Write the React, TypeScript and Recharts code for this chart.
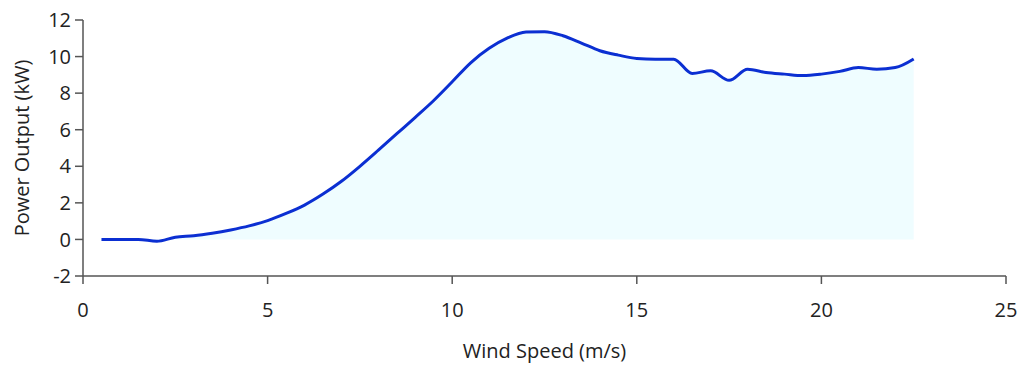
import React from 'react';
import { ComposedChart, Area, XAxis, YAxis } from 'recharts';

const windSpeed = [0.5, 1, 1.5, 2, 2.5, 3, 3.5, 4, 4.5, 5, 5.5, 6, 6.5, 7, 7.5, 8, 8.5, 9, 9.5, 10, 10.5, 11, 11.5, 12, 12.5, 13, 13.5, 14, 14.5, 15, 15.5, 16, 16.5, 17, 17.5, 18, 18.5, 19, 19.5, 20, 20.5, 21, 21.5, 22, 22.5];
const powerOutput = [0, 0, 0, -0.1, 0.12, 0.2, 0.34, 0.52, 0.74, 1.03, 1.42, 1.88, 2.48, 3.18, 4.0, 4.88, 5.78, 6.68, 7.6, 8.62, 9.66, 10.45, 11.02, 11.34, 11.36, 11.14, 10.74, 10.32, 10.08, 9.9, 9.86, 9.86, 9.08, 9.22, 8.7, 9.31, 9.13, 9.04, 8.96, 9.04, 9.19, 9.4, 9.31, 9.4, 9.87];
const xTicks = [0, 5, 10, 15, 20, 25];
const yTicks = [-2, 0, 2, 4, 6, 8, 10, 12];

const data = windSpeed.map((w, i) => ({ w, p: powerOutput[i] }));

const font = "'Open Sans', sans-serif";
const tickStyle = { fill: '#222', fontSize: 20, fontFamily: font };
const axisColor = '#555';

export default function App() {
  return (
    <div style={{ position: 'absolute', left: 0, top: 0, background: '#fff' }}>
      <ComposedChart width={1025} height={365} data={data} margin={{ top: 20, right: 19, bottom: 0, left: 0 }}>
        <XAxis
          dataKey="w"
          type="number"
          domain={[0, 25]}
          ticks={xTicks}
          height={89}
          tickSize={8}
          tickMargin={19}
          tick={tickStyle}
          stroke={axisColor}
          strokeWidth={1.5}
          label={{ value: 'Wind Speed (m/s)', position: 'insideBottom', offset: 7, style: { fill: '#222', fontSize: 20, fontFamily: font } }}
        />
        <YAxis
          type="number"
          domain={[-2, 12]}
          ticks={yTicks}
          width={83}
          tickSize={8}
          tickMargin={4}
          tick={tickStyle}
          stroke={axisColor}
          strokeWidth={1.5}
          label={{ value: 'Power Output (kW)', angle: -90, position: 'insideLeft', offset: 22, style: { textAnchor: 'middle', fill: '#222', fontSize: 20, fontFamily: font } }}
        />
        <Area
          dataKey="p"
          type="monotone"
          stroke="#0b2fd2"
          strokeWidth={3}
          fill="#effdff"
          fillOpacity={1}
          isAnimationActive={false}
          dot={false}
          activeDot={false}
        />
      </ComposedChart>
    </div>
  );
}
